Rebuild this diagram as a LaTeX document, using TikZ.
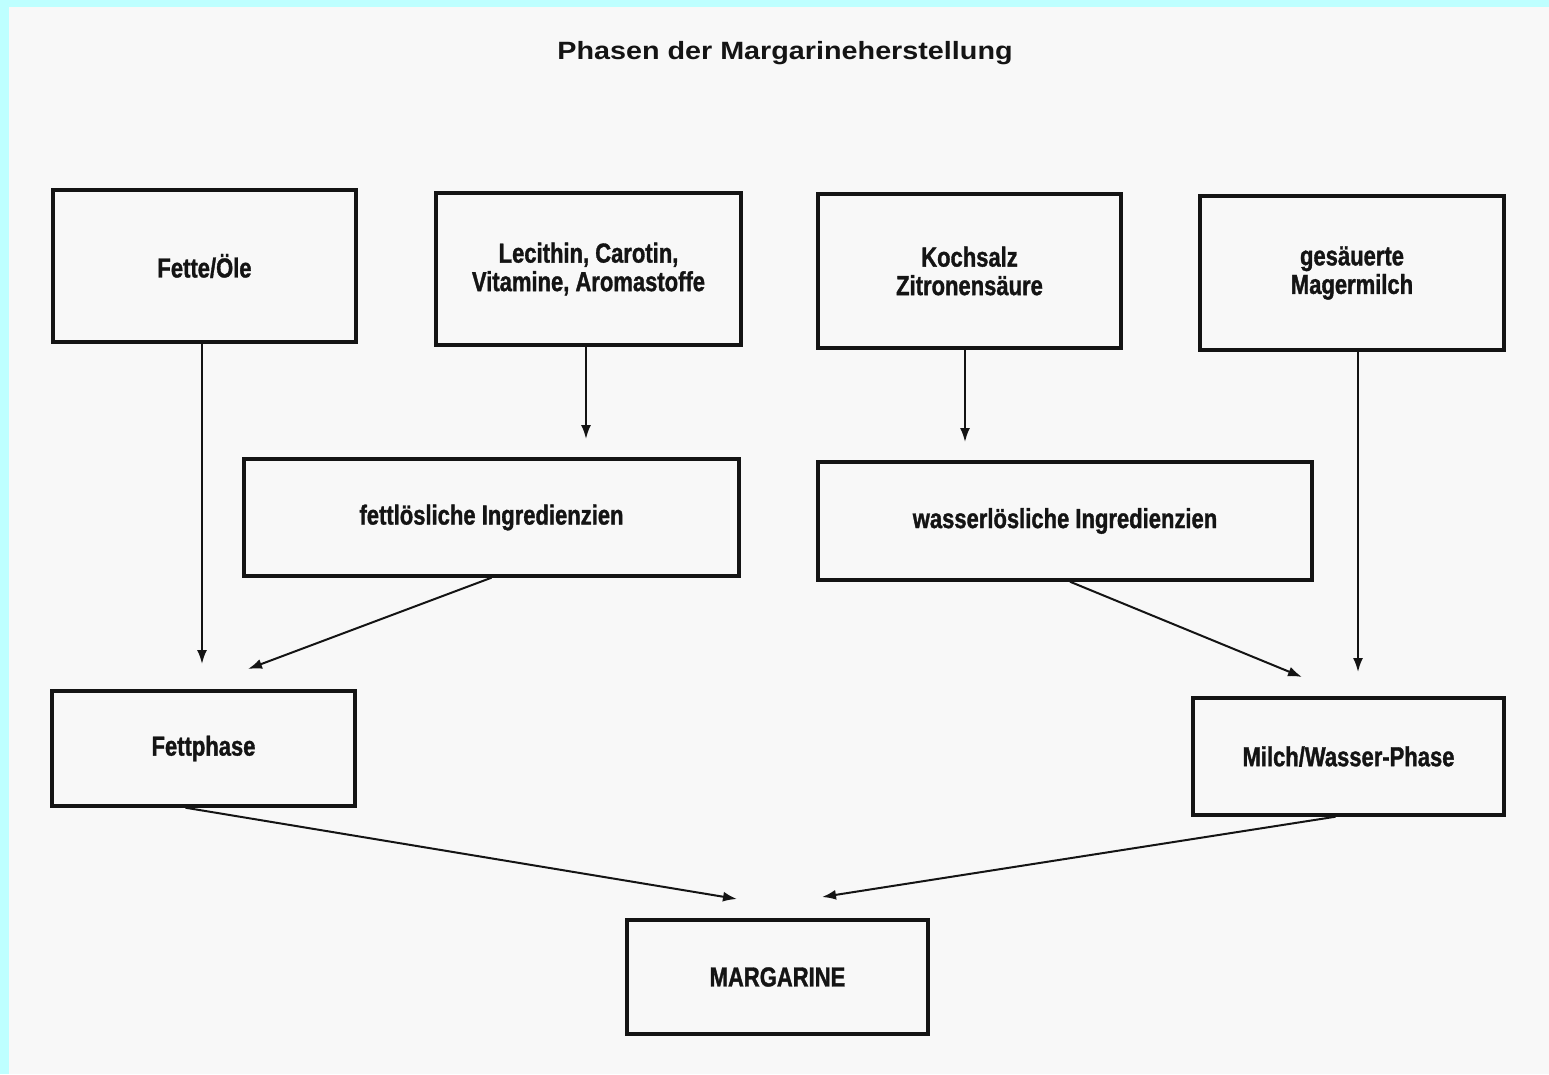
\documentclass[tikz,border=0pt]{standalone}
\usepackage{fontspec}
\setmainfont{Liberation Sans}
\newfontfamily\titlefont[FakeStretch=1.15]{Liberation Sans}
\newfontfamily\boxfont[FakeStretch=0.8,FakeBold=1.2]{Liberation Sans}
\usetikzlibrary{arrows.meta}
\definecolor{bgcyan}{RGB}{190,255,255}
\definecolor{paper}{RGB}{248,248,248}
\definecolor{ink}{RGB}{20,20,20}
\begin{document}
\begin{tikzpicture}[x=1pt,y=-1pt,
  boxnode/.style={draw=ink,line width=3.4pt,inner sep=0pt,align=center,
    text=ink,font=\boxfont\bfseries\fontsize{27.5}{28.5}\selectfont},
  flow/.style={draw=ink,line width=2pt,-{Latex[length=14pt,width=10pt]}}]
\useasboundingbox (0,0) rectangle (1549,1074);
\fill[bgcyan] (0,0) rectangle (1549,1074);
\fill[paper] (9,7) rectangle (1549,1074);
\node[text=ink,font=\titlefont\bfseries\fontsize{25}{28}\selectfont] (title) at (785,53) {Phasen der Margarineherstellung};
\node[boxnode,minimum width=303pt,minimum height=152pt] (fette) at (204.5,266) {Fette/Öle};
\node[boxnode,minimum width=305pt,minimum height=152pt] (lec) at (588.5,269) {Lecithin, Carotin,\\Vitamine, Aromastoffe};
\node[boxnode,minimum width=303pt,minimum height=154pt] (koch) at (969.5,271) {Kochsalz\\Zitronensäure};
\node[boxnode,minimum width=304pt,minimum height=154pt] (mager) at (1352,273) {gesäuerte\\Magermilch};
\node[boxnode,minimum width=495pt,minimum height=117pt] (fettl) at (491.5,517.5) {fettlösliche Ingredienzien};
\node[boxnode,minimum width=494pt,minimum height=118pt] (wasserl) at (1065,521) {wasserlösliche Ingredienzien};
\node[boxnode,minimum width=303pt,minimum height=115pt] (fettph) at (203.5,748.5) {Fettphase};
\node[boxnode,minimum width=311pt,minimum height=117pt] (milch) at (1348.5,756.5) {Milch/Wasser-Phase};
\node[boxnode,minimum width=301pt,minimum height=114pt] (marg) at (777.5,977) {MARGARINE};
\coordinate (c1) at (202,664);
\coordinate (c2) at (586,439);
\coordinate (c3) at (965,442);
\coordinate (c4) at (1358,672);
\coordinate (c5) at (248,669);
\coordinate (c6) at (1302,677);
\coordinate (c7) at (737,899);
\coordinate (c8) at (822,897);
\draw[flow] (fette.south -| c1) -- (c1);
\draw[flow] (lec.south -| c2) -- (c2);
\draw[flow] (koch.south -| c3) -- (c3);
\draw[flow] (mager.south -| c4) -- (c4);
\draw[flow] (fettl.south) -- (c5);
\draw[flow] ([xshift=5pt]wasserl.south) -- (c6);
\draw[flow] ([xshift=-18pt]fettph.south) -- (c7);
\draw[flow] ([xshift=-13pt]milch.south) -- (c8);
\end{tikzpicture}
\end{document}
